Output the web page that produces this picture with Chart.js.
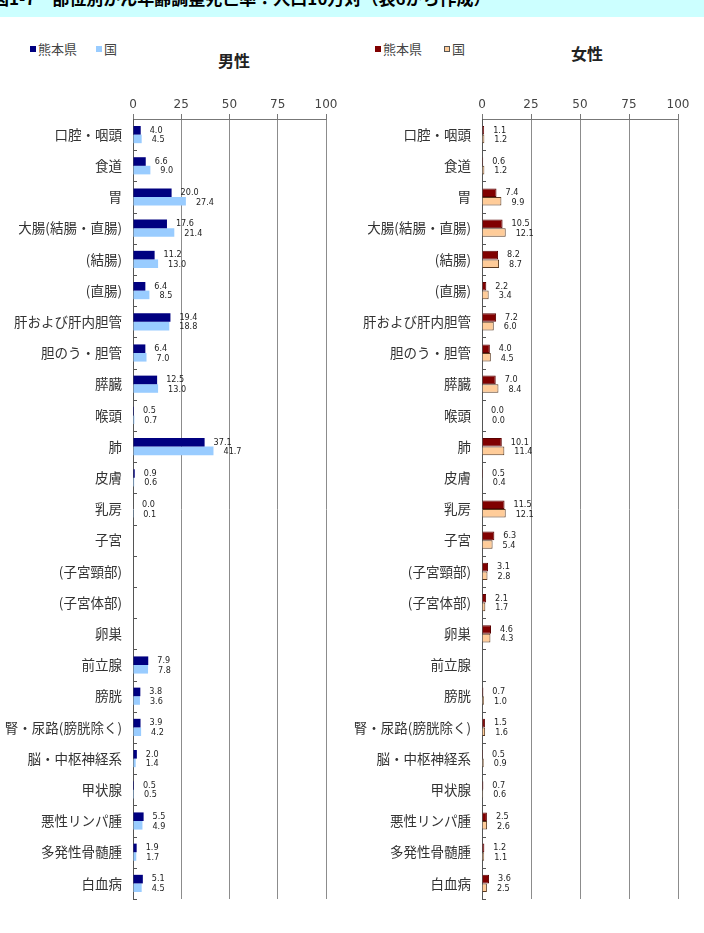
<!DOCTYPE html>
<html>
<head>
<meta charset="utf-8">
<script src="https://cdn.jsdelivr.net/npm/chart.js@4/dist/chart.umd.min.js"></script>
<style>
body { margin: 0; width: 704px; height: 933px; background: #fff; position: relative; overflow: hidden;
       font-family: "Noto Sans CJK JP", sans-serif; color: #333; }
#band { position: absolute; left: 0; top: 0; width: 704px; height: 17px; background: #ccffff; overflow: hidden; }
#band span { position: absolute; left: -8px; top: -15px; font-size: 17px; font-weight: bold; color: #000; white-space: nowrap; }
canvas { position: absolute; top: 0; }
.leg { position: absolute; font-size: 13px; color: #444; white-space: nowrap; }
.sq { display: inline-block; width: 6px; height: 6px; margin-right: 2px; vertical-align: 2px; box-sizing: border-box; }
.ttl { position: absolute; font-size: 16px; font-weight: bold; color: #222; }
</style>
</head>
<body>
<div id="band"><span>図1-7　部位別がん年齢調整死亡率：人口10万対（表6から作成）</span></div>

<div class="leg" style="left:30px;top:39px"><span class="sq" style="background:#000080"></span>熊本県</div>
<div class="leg" style="left:96px;top:39px"><span class="sq" style="background:#99ccff"></span>国</div>
<div class="ttl" style="left:218px;top:48px">男性</div>

<div class="leg" style="left:375px;top:39px"><span class="sq" style="background:#800000"></span>熊本県</div>
<div class="leg" style="left:444px;top:39px"><span class="sq" style="background:#ffcc99;border:1px solid #555"></span>国</div>
<div class="ttl" style="left:571px;top:41px">女性</div>

<canvas id="male" width="352" height="933" style="left:0"></canvas>
<canvas id="female" width="352" height="933" style="left:352px"></canvas>

<script>
var categories = ["口腔・咽頭", "食道", "胃", "大腸(結腸・直腸)", "(結腸)", "(直腸)", "肝および肝内胆管",
  "胆のう・胆管", "膵臓", "喉頭", "肺", "皮膚", "乳房", "子宮", "(子宮頸部)", "(子宮体部)", "卵巣",
  "前立腺", "膀胱", "腎・尿路(膀胱除く)", "脳・中枢神経系", "甲状腺", "悪性リンパ腫", "多発性骨髄腫", "白血病"];

var maleKumamoto = [4.0, 6.6, 20.0, 17.6, 11.2, 6.4, 19.4, 6.4, 12.5, 0.5, 37.1, 0.9, 0.0,
  null, null, null, null, 7.9, 3.8, 3.9, 2.0, 0.5, 5.5, 1.9, 5.1];
var maleJapan = [4.5, 9.0, 27.4, 21.4, 13.0, 8.5, 18.8, 7.0, 13.0, 0.7, 41.7, 0.6, 0.1,
  null, null, null, null, 7.8, 3.6, 4.2, 1.4, 0.5, 4.9, 1.7, 4.5];

var femaleKumamoto = [1.1, 0.6, 7.4, 10.5, 8.2, 2.2, 7.2, 4.0, 7.0, 0.0, 10.1, 0.5, 11.5,
  6.3, 3.1, 2.1, 4.6, null, 0.7, 1.5, 0.5, 0.7, 2.5, 1.2, 3.6];
var femaleJapan = [1.2, 1.2, 9.9, 12.1, 8.7, 3.4, 6.0, 4.5, 8.4, 0.0, 11.4, 0.4, 12.1,
  5.4, 2.8, 1.7, 4.3, null, 1.0, 1.6, 0.9, 0.6, 2.6, 1.1, 2.5];

var xTicks = [0, 25, 50, 75, 100];

// 数値ラベル（棒の右側）と縦軸の目盛り
var valueLabels = {
  id: "valueLabels",
  afterDatasetsDraw: function (chart) {
    var ctx = chart.ctx;
    var y = chart.scales.y;
    var step = (y.bottom - y.top) / categories.length;
    ctx.save();
    ctx.strokeStyle = "#555";
    ctx.lineWidth = 1;
    ctx.beginPath();
    for (var k = 1; k <= categories.length; k++) {
      var py = Math.round(y.top + k * step) + 0.5;
      ctx.moveTo(y.right, py);
      ctx.lineTo(y.right + 4, py);
    }
    ctx.stroke();

    ctx.font = '9px "Liberation Sans Narrow", "DejaVu Sans Condensed", sans-serif';
    ctx.fillStyle = "#222";
    ctx.textBaseline = "middle";
    chart.data.datasets.forEach(function (ds, i) {
      chart.getDatasetMeta(i).data.forEach(function (bar, j) {
        var v = ds.data[j];
        if (v === null) return;
        ctx.fillText(v.toFixed(1), bar.x + 9 + i, bar.y + i);
      });
    });
    ctx.restore();
  }
};

function makeChart(id, dataA, dataB, colA, colB, border, yWidth) {
  return new Chart(document.getElementById(id), {
    type: "bar",
    data: {
      labels: categories,
      datasets: [
        { label: "熊本県", data: dataA, backgroundColor: colA, borderColor: border ? "#5a0000" : colA,
          borderWidth: border ? 1 : 0, categoryPercentage: 0.55, barPercentage: 1 },
        { label: "国", data: dataB, backgroundColor: colB, borderColor: border ? "#5a3a20" : colB,
          borderWidth: border ? 1 : 0, categoryPercentage: 0.55, barPercentage: 1 }
      ]
    },
    options: {
      indexAxis: "y",
      responsive: false,
      animation: false,
      layout: { padding: { left: 0, right: 26, top: 0, bottom: 34 } },
      plugins: { legend: { display: false }, tooltip: { enabled: false } },
      scales: {
        x: {
          position: "top",
          min: 0, max: 100,
          afterBuildTicks: function (s) { s.ticks = xTicks.map(function (v) { return { value: v }; }); },
          afterFit: function (s) { s.height = 119; },
          ticks: { color: "#444", font: { family: "DejaVu Sans", size: 12 }, padding: 2 },
          grid: {
            color: function (c) { return c.tick && c.tick.value === 0 ? "rgba(0,0,0,0)" : "#8c8c8c"; },
            tickColor: "#777", tickLength: 5, lineWidth: 1
          },
          border: { color: "#777" }
        },
        y: {
          afterFit: function (s) { s.width = yWidth; },
          ticks: { color: "#333", font: { family: "Noto Sans CJK JP", size: 13.5 }, padding: 11, autoSkip: false },
          grid: { drawOnChartArea: false, drawTicks: false, tickLength: 0 },
          border: { color: "#555" }
        }
      }
    },
    plugins: [valueLabels]
  });
}

makeChart("male", maleKumamoto, maleJapan, "#000080", "#99ccff", false, 133);
makeChart("female", femaleKumamoto, femaleJapan, "#800000", "#ffcc99", true, 130);
</script>
</body>
</html>
